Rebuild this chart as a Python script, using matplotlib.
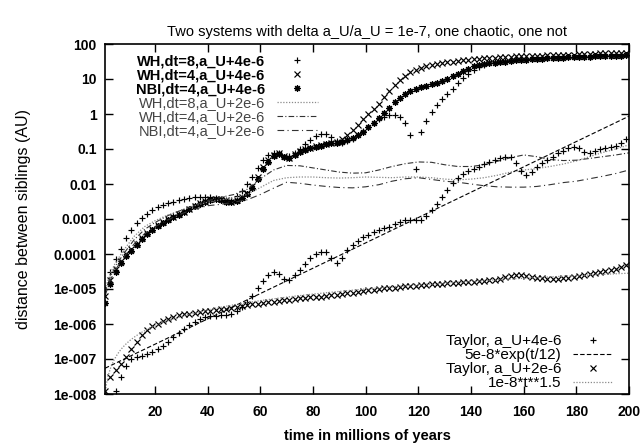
import numpy as np
import matplotlib
matplotlib.use("Agg")
import matplotlib.pyplot as plt

plt.rcParams['font.family'] = ['Liberation Sans', 'DejaVu Sans']

# ---------------- data (log10 of distance in AU) ----------------
t_mark = np.arange(1, 200, 2)   # sample times (Myr) of the marker series

wh8_chaos_log = [
    -5.0, -4.5, -4.15, -3.85, -3.55, -3.3, -3.12, -2.97, -2.85, -2.75,
    -2.67, -2.6, -2.54, -2.5, -2.46, -2.43, -2.4, -2.38, -2.37, -2.36,
    -2.37, -2.4, -2.43, -2.46, -2.45, -2.35, -2.2, -2.0, -1.8, -1.55,
    -1.32, -1.18, -1.1, -1.1, -1.22, -1.2, -1.1, -1.0, -0.87, -0.75,
    -0.63, -0.57, -0.58, -0.66, -0.78, -0.82, -0.78, -0.7, -0.6, -0.48,
    -0.36, -0.25, -0.15, -0.08, -0.04, -0.03, -0.08, -0.25, -0.6, -1.57,
    -0.5, -0.2, 0.05, 0.25, 0.42, 0.56, 0.72, 0.88, 1.02, 1.15,
    1.25, 1.33, 1.4, 1.45, 1.48, 1.5, 1.52, 1.54, 1.55, 1.56,
    1.57, 1.58, 1.58, 1.59, 1.6, 1.6, 1.61, 1.62, 1.62, 1.63,
    1.63, 1.64, 1.64, 1.65, 1.65, 1.66, 1.66, 1.67, 1.67, 1.68]

wh4_chaos_log = [
    -5.2, -4.75, -4.42, -4.2, -4.0, -3.85, -3.7, -3.55, -3.4, -3.28,
    -3.17, -3.08, -3.0, -2.93, -2.86, -2.79, -2.7, -2.62, -2.55, -2.49,
    -2.44, -2.42, -2.43, -2.47, -2.5, -2.46, -2.38, -2.25, -2.05, -1.8,
    -1.52, -1.32, -1.18, -1.12, -1.2, -1.25, -1.15, -1.05, -1.0, -0.96,
    -0.92, -0.88, -0.85, -0.82, -0.8, -0.72, -0.6, -0.45, -0.3, -0.15,
    0.0, 0.15, 0.3, 0.48, 0.65, 0.82, 0.98, 1.1, 1.2, 1.27,
    1.32, 1.36, 1.39, 1.42, 1.45, 1.48, 1.5, 1.52, 1.54, 1.55,
    1.57, 1.58, 1.59, 1.6, 1.61, 1.62, 1.63, 1.64, 1.65, 1.65,
    1.66, 1.66, 1.67, 1.67, 1.68, 1.68, 1.69, 1.69, 1.7, 1.7,
    1.71, 1.71, 1.72, 1.72, 1.73, 1.73, 1.74, 1.74, 1.75, 1.75]

nbi_chaos_log = [
    -5.4, -4.85, -4.5, -4.25, -4.05, -3.9, -3.74, -3.58, -3.44, -3.32,
    -3.2, -3.1, -3.02, -2.95, -2.88, -2.8, -2.72, -2.64, -2.57, -2.5,
    -2.45, -2.43, -2.45, -2.5, -2.52, -2.48, -2.4, -2.28, -2.1, -1.85,
    -1.58, -1.36, -1.2, -1.13, -1.22, -1.27, -1.18, -1.08, -1.02, -0.98,
    -0.94, -0.9, -0.87, -0.84, -0.82, -0.8, -0.75, -0.68, -0.6, -0.5,
    -0.38, -0.25, -0.12, 0.02, 0.17, 0.33, 0.47, 0.57, 0.65, 0.72,
    0.77, 0.8, 0.85, 0.88, 0.93, 1.0, 1.08, 1.15, 1.22, 1.3,
    1.36, 1.4, 1.43, 1.45, 1.47, 1.49, 1.5, 1.52, 1.53, 1.54,
    1.55, 1.56, 1.57, 1.58, 1.59, 1.6, 1.6, 1.61, 1.62, 1.62,
    1.63, 1.64, 1.64, 1.65, 1.65, 1.66, 1.66, 1.67, 1.67, 1.68]

taylor4_log = [
    -8.6, -8.2, -7.9, -7.5, -7.2, -7.0, -6.93, -6.9, -6.86, -6.8,
    -6.72, -6.62, -6.5, -6.38, -6.26, -6.15, -6.04, -5.94, -5.86, -5.8,
    -5.78, -5.76, -5.75, -5.74, -5.7, -5.62, -5.52, -5.38, -5.2, -4.98,
    -4.78, -4.6, -4.52, -4.58, -4.72, -4.75, -4.6, -4.45, -4.28, -4.12,
    -4.0, -3.93, -3.95, -4.1, -4.25, -4.1, -3.88, -3.75, -3.62, -3.52,
    -3.45, -3.38, -3.32, -3.27, -3.22, -3.15, -3.08, -3.04, -3.02, -3.03,
    -3.02, -2.9, -2.75, -2.56, -2.38, -2.18, -1.98, -1.83, -1.72, -1.62,
    -1.56, -1.5, -1.44, -1.38, -1.32, -1.25, -1.22, -1.24, -1.4, -1.62,
    -1.75, -1.65, -1.5, -1.4, -1.32, -1.22, -1.12, -1.05, -0.98, -0.94,
    -0.98, -1.08, -1.12, -1.06, -1.0, -0.98, -0.95, -0.9, -0.82, -0.7]

taylor2_log = [
    -7.9, -7.5, -7.3, -7.15, -6.95, -6.72, -6.5, -6.3, -6.17, -6.07,
    -5.99, -5.92, -5.85, -5.79, -5.75, -5.72, -5.7, -5.68, -5.66, -5.64,
    -5.62, -5.6, -5.58, -5.56, -5.54, -5.51, -5.48, -5.46, -5.44, -5.42,
    -5.4, -5.38, -5.36, -5.34, -5.32, -5.31, -5.29, -5.27, -5.25, -5.24,
    -5.23, -5.22, -5.2, -5.18, -5.16, -5.14, -5.12, -5.1, -5.08, -5.06,
    -5.04, -5.02, -5.0, -4.98, -4.97, -4.96, -4.94, -4.92, -4.91, -4.9,
    -4.89, -4.88, -4.87, -4.86, -4.85, -4.84, -4.83, -4.82, -4.81, -4.8,
    -4.79, -4.77, -4.76, -4.75, -4.73, -4.7, -4.66, -4.62, -4.6, -4.6,
    -4.63, -4.66, -4.68, -4.69, -4.7, -4.7, -4.7, -4.69, -4.68, -4.66,
    -4.63, -4.6, -4.57, -4.55, -4.52, -4.49, -4.46, -4.42, -4.37, -4.3]

t_line = [1, 3, 5, 8, 12, 16, 20, 25, 30, 35, 40, 45, 50, 55, 60, 65, 70, 75,
          80, 85, 90, 95, 100, 105, 110, 115, 120, 125, 130, 135, 140, 145,
          150, 155, 160, 165, 170, 175, 180, 185, 190, 195, 200]

wh8_reg_log = [
    -5.0, -4.55, -4.25, -3.9, -3.5, -3.22, -3.05, -2.88, -2.75, -2.62, -2.52,
    -2.45, -2.4, -2.3, -2.1, -1.9, -1.82, -1.8, -1.8, -1.82, -1.83, -1.82,
    -1.8, -1.81, -1.82, -1.8, -1.8, -1.82, -1.86, -1.88, -1.86, -1.82, -1.75,
    -1.66, -1.6, -1.56, -1.5, -1.43, -1.34, -1.22, -1.1, -1.0, -0.88]

wh4_reg_log = [
    -5.1, -4.65, -4.35, -4.0, -3.6, -3.3, -3.1, -2.9, -2.75, -2.6, -2.48,
    -2.38, -2.3, -2.15, -1.85, -1.6, -1.47, -1.48, -1.54, -1.6, -1.66, -1.69,
    -1.68, -1.6, -1.5, -1.42, -1.37, -1.38, -1.45, -1.5, -1.5, -1.45, -1.35,
    -1.25, -1.17, -1.22, -1.3, -1.33, -1.32, -1.27, -1.22, -1.17, -1.11]

nbi_reg_log = [
    -5.2, -4.75, -4.45, -4.1, -3.72, -3.42, -3.22, -3.02, -2.85, -2.72, -2.62,
    -2.58, -2.52, -2.45, -2.3, -2.12, -1.95, -1.98, -2.03, -2.07, -2.1, -2.11,
    -2.08, -2.02, -1.92, -1.85, -1.82, -1.87, -1.92, -1.95, -2.0, -2.05, -2.08,
    -2.09, -2.09, -2.07, -2.02, -1.96, -1.92, -1.85, -1.78, -1.7, -1.6]

y_ticks = [1e-8, 1e-7, 1e-6, 1e-5, 1e-4, 1e-3, 1e-2, 1e-1, 1, 10, 100]
y_ticklabels = ['1e-008', '1e-007', '1e-006', '1e-005', '0.0001', '0.001',
                '0.01', '0.1', '1', '10', '100']
x_ticks = [20, 40, 60, 80, 100, 120, 140, 160, 180, 200]

# ---------------- figure ----------------
fig = plt.figure(figsize=(6.44, 4.43), dpi=100)
ax = fig.add_axes([105/644, 1-394/443, 524/644, 350/443])

def val(a):
    return np.power(10.0, np.asarray(a, dtype=float))

ms = 4.4
mew = 0.85
h1, = ax.plot(t_mark, val(wh8_chaos_log), ls='none', marker='+', ms=ms+0.6, mew=mew, color='black',
              label='WH,dt=8,a_U+4e-6')
h2, = ax.plot(t_mark, val(wh4_chaos_log), ls='none', marker='x', ms=ms, mew=mew, color='black',
              label='WH,dt=4,a_U+4e-6')
h3, = ax.plot(t_mark, val(nbi_chaos_log), ls='none', marker=(8, 2, 0), ms=ms+0.4, mew=mew, color='black',
              label='NBI,dt=4,a_U+4e-6')
h4, = ax.plot(t_line, val(wh8_reg_log), ls=(0, (1, 1.3)), lw=0.9, color='#8a8a8a',
              label='WH,dt=8,a_U+2e-6')
h5, = ax.plot(t_line, val(wh4_reg_log), ls=(0, (5, 2, 1, 2)), lw=0.8, color='#333333',
              label='WH,dt=4,a_U+2e-6')
h6, = ax.plot(t_line, val(nbi_reg_log), ls=(0, (6, 3, 1, 3)), lw=0.8, color='#333333',
              label='NBI,dt=4,a_U+2e-6')

h7, = ax.plot(t_mark, val(taylor4_log), ls='none', marker='+', ms=ms+0.6, mew=mew, color='black',
              label='Taylor, a_U+4e-6')
t_fun = np.linspace(1, 200, 400)
h8, = ax.plot(t_fun, 5e-8*np.exp(t_fun/12), ls=(0, (4, 2)), lw=0.8, color='black',
              label='5e-8*exp(t/12)')
h9, = ax.plot(t_mark, val(taylor2_log), ls='none', marker='x', ms=ms, mew=mew, color='black',
              label='Taylor, a_U+2e-6')
h10, = ax.plot(t_fun, 1e-8*t_fun**1.5, ls=(0, (1, 1.3)), lw=0.9, color='#8a8a8a',
               label='1e-8*t**1.5')

ax.set_yscale('log')
ax.set_xlim(1, 200)
ax.set_ylim(1e-8, 100)
ax.set_yticks(y_ticks)
ax.set_yticklabels(y_ticklabels)
ax.set_xticks(x_ticks)
ax.set_xticklabels([str(v) for v in x_ticks])
ax.minorticks_off()
ax.tick_params(axis='both', which='major', direction='in', length=6, width=1,
               top=True, right=True, labelsize=10)
ax.tick_params(axis='x', pad=8)
ax.tick_params(axis='y', pad=6)
for lab in ax.get_xticklabels() + ax.get_yticklabels():
    lab.set_fontweight('bold')
for s in ax.spines.values():
    s.set_linewidth(1.2)

ax.set_title('Two systems with delta a_U/a_U = 1e-7, one chaotic, one not', fontsize=10.5, pad=6)
ax.set_xlabel('time in millions of years', fontsize=10.5, fontweight='bold', labelpad=7)
ax.set_ylabel('distance between siblings (AU)', fontsize=11.5, labelpad=16)

leg1 = ax.legend(handles=[h1, h2, h3, h4, h5, h6], loc='upper left', bbox_to_anchor=(0.04, 1.0),
                 frameon=False, markerfirst=False, numpoints=1, fontsize=10.5, handlelength=2.8,
                 handletextpad=0.8, labelspacing=0.0, borderpad=0.2)
for i, t in enumerate(leg1.get_texts()):
    if i < 3:
        t.set_color('black')
        t.set_fontweight('bold')
    else:
        t.set_color('#444444')
ax.add_artist(leg1)
leg2 = ax.legend(handles=[h7, h8, h9, h10], loc='lower right', bbox_to_anchor=(0.99, -0.02),
                 frameon=False, markerfirst=False, numpoints=1, fontsize=11, handlelength=2.6,
                 handletextpad=0.8, labelspacing=0.0, borderpad=0.2)

fig.savefig('out.png', dpi=100)
